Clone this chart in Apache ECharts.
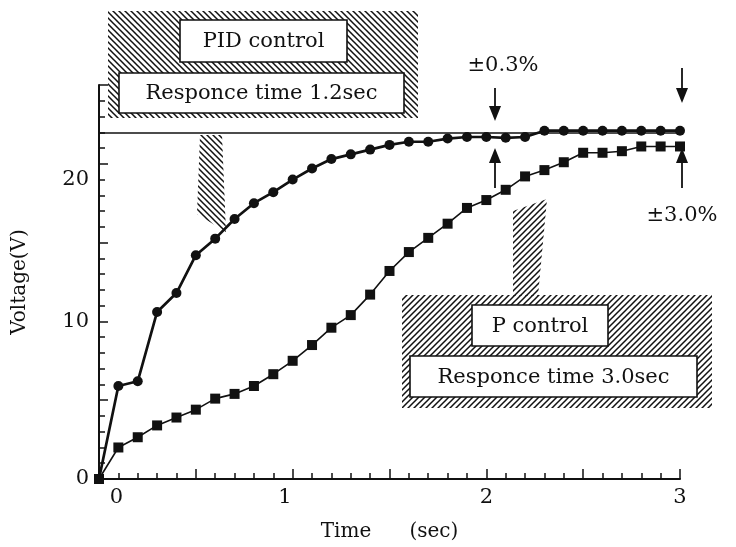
<!DOCTYPE html>
<html lang="en">
<head>
    <meta charset="UTF-8">
    <title>Responce time</title>
    <script type="text/javascript" src="https://cdn.jsdelivr.net/npm/echarts@6/dist/echarts.min.js"></script>
</head>
<body style="margin:0;background:#fff">
<div id="main" style="width:736px;height:547px"></div>
<script type="text/javascript">
    // sampling times (sec)
    var times = [0, 0.1, 0.2, 0.3, 0.4, 0.5, 0.6, 0.7, 0.8, 0.9, 1.0,
        1.1, 1.2, 1.3, 1.4, 1.5, 1.6, 1.7, 1.8, 1.9, 2.0,
        2.1, 2.2, 2.3, 2.4, 2.5, 2.6, 2.7, 2.8, 2.9, 3.0];
    // PID control voltage (V)
    var pidVolt = [0, 5.9, 6.2, 10.6, 11.8, 14.2, 15.25, 16.5, 17.5, 18.2, 19.0,
        19.7, 20.3, 20.6, 20.9, 21.2, 21.4, 21.4, 21.6, 21.7, 21.7,
        21.65, 21.7, 22.1, 22.1, 22.1, 22.1, 22.1, 22.1, 22.1, 22.1];
    // P control voltage (V)
    var pVolt = [0, 2.0, 2.65, 3.4, 3.9, 4.4, 5.1, 5.4, 5.9, 6.65, 7.5,
        8.5, 9.6, 10.4, 11.7, 13.2, 14.4, 15.3, 16.2, 17.2, 17.7,
        18.35, 19.2, 19.6, 20.1, 20.7, 20.7, 20.8, 21.1, 21.1, 21.1];
    var targetVolt = 22;
    // tick labels as printed (the original places "0" and "20" a little off the ticks)
    var xLabelAt = [0.09, 0.96, 2, 3];
    var xLabelText = ['0', '1', '2', '3'];
    var yLabelAt = [0, 10, 19];
    var yLabelText = ['0', '10', '20'];

    var serif = '"DejaVu Serif", "Liberation Serif", serif';

    function hatch(dir) {
        var s = 6;
        var c = document.createElement('canvas');
        c.width = s; c.height = s;
        var g = c.getContext('2d');
        g.strokeStyle = '#111';
        g.lineWidth = 1.5;
        g.beginPath();
        if (dir === 'back') {
            g.moveTo(-1, -1); g.lineTo(s + 1, s + 1);
            g.moveTo(-1, s - 1); g.lineTo(1, s + 1);
            g.moveTo(s - 1, -1); g.lineTo(s + 1, 1);
        } else {
            g.moveTo(-1, s + 1); g.lineTo(s + 1, -1);
            g.moveTo(-1, 1); g.lineTo(1, -1);
            g.moveTo(s - 1, s + 1); g.lineTo(s + 1, s - 1);
        }
        g.stroke();
        return {type: 'pattern', image: c, repeat: 'repeat'};
    }

    function pairs(ys) {
        var out = [];
        for (var i = 0; i < times.length; i++) {
            out.push([times[i], ys[i]]);
        }
        return out;
    }

    function textBox(x, y, w, h, txt) {
        return [
            {type: 'rect', z: 30, shape: {x: x, y: y, width: w, height: h},
                style: {fill: '#fff', stroke: '#111', lineWidth: 1.6}},
            {type: 'text', z: 31, x: x + w / 2, y: y + h / 2 + 1,
                style: {text: txt, fill: '#111', font: '21px ' + serif,
                    align: 'center', verticalAlign: 'middle'}}
        ];
    }

    function arrow(x, y1, y2) {
        // line from y1 to y2, head at y2
        var d = y2 > y1 ? 1 : -1;
        return [
            {type: 'line', z: 30, shape: {x1: x, y1: y1, x2: x, y2: y2 - d * 10},
                style: {stroke: '#111', lineWidth: 1.8}},
            {type: 'polygon', z: 30, shape: {points: [[x - 6, y2 - d * 15], [x + 6, y2 - d * 15], [x, y2]]},
                style: {fill: '#111'}}
        ];
    }

    var chartDom = document.getElementById('main');
    var myChart = echarts.init(chartDom);
    var backHatch = hatch('back');
    var fwdHatch = hatch('fwd');

    var graphics = [
        // PID annotation
        {type: 'rect', z: 10, shape: {x: 108, y: 11, width: 310, height: 107}, style: {fill: backHatch}},
        {type: 'polygon', z: 10, shape: {points: [[200, 135], [222, 135], [226, 232], [197, 214]]}, style: {fill: backHatch}},
        // P annotation
        {type: 'rect', z: 10, shape: {x: 402, y: 295, width: 310, height: 113}, style: {fill: fwdHatch}},
        {type: 'polygon', z: 10, shape: {points: [[513, 296], [538, 296], [547, 199], [513, 211]]}, style: {fill: fwdHatch}},
        {type: 'text', z: 30, x: 503, y: 66,
            style: {text: '\u00b10.3%', fill: '#111', font: '21px ' + serif, align: 'center', verticalAlign: 'middle'}},
        {type: 'text', z: 30, x: 682, y: 216,
            style: {text: '\u00b13.0%', fill: '#111', font: '21px ' + serif, align: 'center', verticalAlign: 'middle'}}
    ].concat(
        textBox(180, 20, 167, 42, 'PID control'),
        textBox(119, 73, 285, 40, 'Responce time 1.2sec'),
        textBox(472, 305, 136, 41, 'P control'),
        textBox(410, 356, 287, 41, 'Responce time 3.0sec'),
        // tolerance arrows
        arrow(495, 88, 121),
        arrow(495, 188, 148),
        arrow(682, 68, 103),
        arrow(682, 188, 148)
    );

    var option = {
        backgroundColor: '#fff',
        animation: false,
        grid: {left: 99, right: 56, top: 85, bottom: 67},
        xAxis: {
            type: 'value', min: 0, max: 3, interval: 0.5,
            name: 'Time      (sec)', nameLocation: 'middle', nameGap: 43,
            nameTextStyle: {color: '#111', fontFamily: serif, fontSize: 20},
            axisLine: {lineStyle: {color: '#111', width: 2}},
            axisTick: {inside: true, length: 10, lineStyle: {color: '#111', width: 1.5}},
            minorTick: {show: true, splitNumber: 5, length: 6, lineStyle: {color: '#111', width: 1.5}},
            splitLine: {show: false},
            axisLabel: {
                customValues: xLabelAt,
                formatter: function (v) { return xLabelText[xLabelAt.indexOf(v)]; },
                color: '#111', fontFamily: serif, fontSize: 21, margin: 8
            }
        },
        yAxis: {
            type: 'value', min: 0, max: 25, interval: 5,
            name: 'Voltage(V)', nameLocation: 'middle', nameGap: 69, nameRotate: 90,
            nameTextStyle: {color: '#111', fontFamily: serif, fontSize: 20},
            axisLine: {show: true, lineStyle: {color: '#111', width: 2}},
            axisTick: {show: true, inside: true, length: 9, lineStyle: {color: '#111', width: 1.5}},
            minorTick: {show: true, splitNumber: 5, length: 6, lineStyle: {color: '#111', width: 1.5}},
            splitLine: {show: false},
            axisLabel: {
                customValues: yLabelAt,
                formatter: function (v) { return yLabelText[yLabelAt.indexOf(v)]; },
                color: '#111', fontFamily: serif, fontSize: 21, margin: 10
            }
        },
        series: [
            {
                name: 'PID control', type: 'line', data: pairs(pidVolt),
                symbol: 'circle', symbolSize: 10,
                itemStyle: {color: '#111'},
                lineStyle: {color: '#111', width: 2.7},
                z: 5,
                markLine: {
                    silent: true, symbol: 'none', label: {show: false},
                    lineStyle: {color: '#111', width: 1.5, type: 'solid'},
                    data: [{yAxis: targetVolt}]
                }
            },
            {
                name: 'P control', type: 'line', data: pairs(pVolt),
                symbol: 'rect', symbolSize: 10,
                itemStyle: {color: '#111'},
                lineStyle: {color: '#111', width: 1.6},
                z: 4
            }
        ],
        graphic: graphics
    };

    option && myChart.setOption(option);
</script>
</body>
</html>
